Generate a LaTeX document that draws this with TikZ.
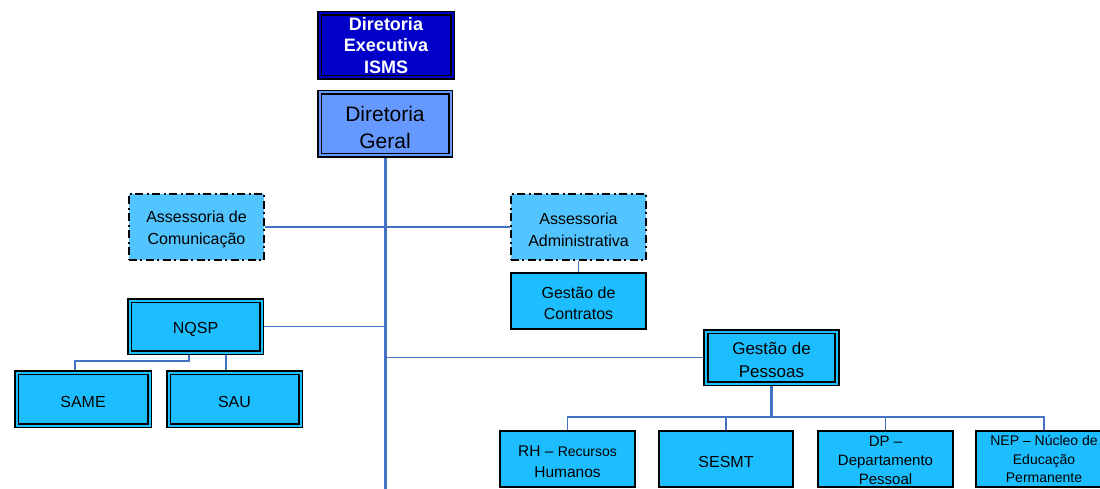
\documentclass[tikz,border=0pt]{standalone}
\usepackage{fontspec}
\setmainfont{Liberation Sans}
\usetikzlibrary{backgrounds}
\definecolor{execblue}{RGB}{0,0,200}
\definecolor{dgblue}{RGB}{102,153,255}
\definecolor{boxcyan}{RGB}{28,190,255}
\definecolor{asscyan}{RGB}{82,196,255}
\definecolor{linkblue}{RGB}{68,114,196}
\newcommand\hstrut{\rule{0pt}{1.05em}}
\tikzset{
  base/.style={inner sep=0pt, align=center, text=black},
  dbl/.style={base, draw=black, line width=1.6pt, double distance=2pt},
  sgl/.style={base, draw=black, line width=2pt, fill=boxcyan},
  dashbox/.style={base, draw=black, line width=1.8pt, fill=asscyan,
     dash pattern=on 8pt off 3.5pt on 2pt off 3.5pt},
  conn/.style={draw=linkblue, line width=1.9pt},
  trunk/.style={draw=linkblue, line width=3pt},
  f16/.style={font=\fontsize{16}{22}\selectfont},
}
\begin{document}
\begin{tikzpicture}[x=1pt,y=-1pt]
\useasboundingbox (0,0) rectangle (1100,489);
\clip (0,0) rectangle (1100,489);
% nodes
\node[dbl, double=execblue, fill=execblue, text=white, minimum width=133, minimum height=64,
      font=\bfseries\fontsize{18}{21.5}\selectfont] (exec) at (386,45.5) {Diretoria\\Executiva\\ISMS};
\node[dbl, double=dgblue, fill=dgblue, minimum width=131, minimum height=63,
      font=\fontsize{21}{27}\selectfont] (dg) at (385,124) {\hstrut Diretoria\\Geral};
\node[dashbox, minimum width=135.5, minimum height=66.5, f16] (ac) at (196.5,227) {\hstrut Assessoria de\\Comunicação};
\node[dashbox, minimum width=135.5, minimum height=66.5, f16] (aa) at (578.5,227) {\hstrut Assessoria\\Administrativa};
\node[sgl, minimum width=135, minimum height=56, font=\fontsize{16}{21}\selectfont] (gc) at (578.5,301) {\hstrut Gestão de\\Contratos};
\node[dbl, double=boxcyan, fill=boxcyan, minimum width=132, minimum height=52, f16] (nqsp) at (195.5,326.5) {\hstrut NQSP};
\node[dbl, double=boxcyan, fill=boxcyan, minimum width=133, minimum height=53, f16] (same) at (83,399) {\hstrut SAME};
\node[dbl, double=boxcyan, fill=boxcyan, minimum width=132, minimum height=53, f16] (sau) at (234.5,399) {\hstrut SAU};
\node[dbl, double=boxcyan, fill=boxcyan, minimum width=131, minimum height=52,
      font=\fontsize{17}{23}\selectfont] (gp) at (771.5,357.5) {\hstrut Gestão de\\Pessoas};
\node[sgl, minimum width=135, minimum height=56, font=\fontsize{15.5}{21}\selectfont] (rh) at (567.5,459)
      {\hstrut RH -- {\fontsize{14}{21}\selectfont Recursos}\\Humanos};
\node[sgl, minimum width=134, minimum height=56, f16] (sesmt) at (726,459) {\hstrut SESMT};
\node[sgl, minimum width=135, minimum height=56, font=\fontsize{15}{19}\selectfont] (dp) at (885.5,459) {\rule{0pt}{0.85em}DP --\\Departamento\\Pessoal};
\node[sgl, minimum width=136, minimum height=56, font=\fontsize{14}{18.5}\selectfont] (nep) at (1044,459) {NEP -- Núcleo de\\Educação\\Permanente};
% connectors
\coordinate (bot) at (385,489);
\coordinate (sameTop) at ([xshift=-8pt]same.north);
\coordinate (sauTop) at ([xshift=-8.5pt]sau.north);
\coordinate (nqBot) at ([xshift=-6.5pt]nqsp.south);
\begin{scope}[on background layer]
\draw[trunk] (dg.south) -- (bot);
\draw[conn] (ac.east) -- (aa.west);
\draw[conn] (aa.south) -- (gc.north);
\draw[conn] (nqsp.east) -- (nqsp.east -| dg.south);
\draw[conn] (gp.west -| dg.south) -- (gp.west);
\draw[conn] (nqBot) -- ++(0,8) -| (sameTop);
\draw[conn] (sauTop) -- (sauTop |- nqsp.south);
\draw[conn, line width=2.5pt] (gp.south) -- ++(0,33) coordinate (bus);
\draw[conn] (rh.north) |- (bus) -| (nep.north);
\draw[conn] (sesmt.north) -- (sesmt.north |- bus);
\draw[conn] (dp.north) -- (dp.north |- bus);
\end{scope}
\end{tikzpicture}
\end{document}
